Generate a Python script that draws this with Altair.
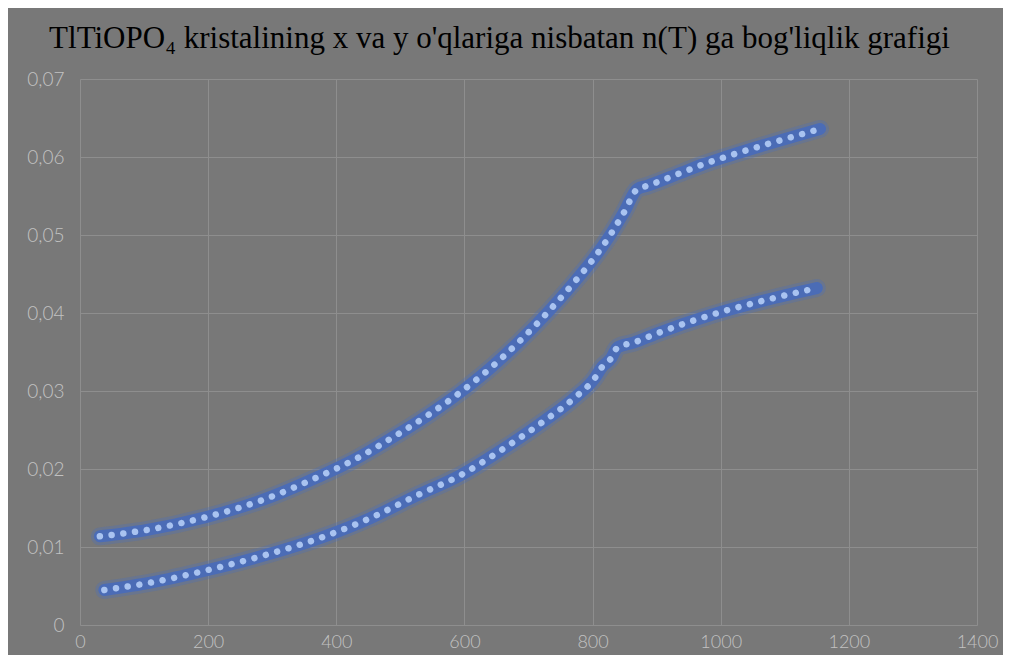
import altair as alt
import pandas as pd

# Upper curve
temp_upper = [31, 103, 196, 285, 372, 426, 493, 543, 593, 640, 685, 729, 772,
              800, 826, 849, 870, 885, 939, 974, 1011, 1083, 1155]
n_upper = [0.01137, 0.01217, 0.01382, 0.01603, 0.0190, 0.0211, 0.0243, 0.0269,
           0.0298, 0.0329, 0.0363, 0.0400, 0.0440, 0.0468, 0.0498, 0.0529,
           0.0559, 0.0563, 0.0580, 0.0591, 0.0601, 0.0619, 0.0636]

# Lower curve
temp_lower = [38, 110, 201, 292, 382, 453, 525, 593, 659, 725, 773, 803, 815,
              829, 839, 864, 898, 987, 1077, 1150]
n_lower = [0.00449, 0.00543, 0.00708, 0.00903, 0.01137, 0.0137, 0.01658,
           0.01917, 0.0225, 0.0262, 0.0292, 0.0316, 0.0331, 0.0342, 0.0356,
           0.0362, 0.0373, 0.0398, 0.0418, 0.0432]

x_ticks = [0, 200, 400, 600, 800, 1000, 1200, 1400]
y_ticks = [0, 0.01, 0.02, 0.03, 0.04, 0.05, 0.06, 0.07]

title_text = "TlTiOPO\u2084 kristalining x va y o'qlariga nisbatan  n(T) ga bog'liqlik grafigi"

rows = []
for t, v in zip(temp_upper, n_upper):
    rows.append({"T": t, "n": v, "series": "upper"})
for t, v in zip(temp_lower, n_lower):
    rows.append({"T": t, "n": v, "series": "lower"})
df = pd.DataFrame(rows)

label_color = "#c2c2c2"
grid_color = "#8e8e8e"
bg = "#787878"
label_font = "Lato"

x_enc = alt.X(
    "T:Q",
    scale=alt.Scale(domain=[0, 1400], nice=False, zero=False),
    axis=alt.Axis(values=x_ticks, grid=True, gridColor=grid_color, gridWidth=1,
                  domain=False, ticks=False, labelColor=label_color,
                  labelFont=label_font, labelFontSize=18, labelFontWeight=300,
                  labelPadding=8, title=None, labelFlush=False, format="d"),
)
y_enc = alt.Y(
    "n:Q",
    scale=alt.Scale(domain=[0, 0.07], nice=False),
    axis=alt.Axis(values=y_ticks, grid=True, gridColor=grid_color, gridWidth=1,
                  domain=False, ticks=False, labelColor=label_color,
                  labelFont=label_font, labelFontSize=19, labelFontWeight=300,
                  labelPadding=16, title=None, labelFlush=False,
                  labelExpr="datum.value == 0 ? '0' : replace(format(datum.value, '.2f'), '.', ',')"),
)

base = alt.Chart(df).encode(x=x_enc, y=y_enc, detail="series:N")

glow_outer = base.mark_line(color="#4d6fb6", strokeWidth=18, opacity=0.35,
                            strokeCap="round", strokeJoin="round",
                            interpolate="monotone")
glow_inner = base.mark_line(color="#4a6cb8", strokeWidth=12, opacity=0.95,
                            strokeCap="round", strokeJoin="round",
                            interpolate="monotone")
dots = base.mark_line(color="#a9c3f0", strokeWidth=6.5, strokeCap="round",
                      strokeDash=[0.01, 11.8], strokeJoin="round",
                      interpolate="monotone")

chart = alt.layer(glow_outer, glow_inner, dots).properties(
    width=897,
    height=546,
    autosize=alt.AutoSizeParams(type="none"),
    padding={"left": 72, "top": 71, "right": 26, "bottom": 30},
    background=bg,
    title=alt.TitleParams(title_text, font="Liberation Serif", fontSize=31,
                          fontWeight="normal", color="#000000",
                          anchor="middle", dx=-29, offset=15),
).configure_view(stroke=None)

chart.save("out.html", embed_options={"renderer": "svg", "actions": False})
